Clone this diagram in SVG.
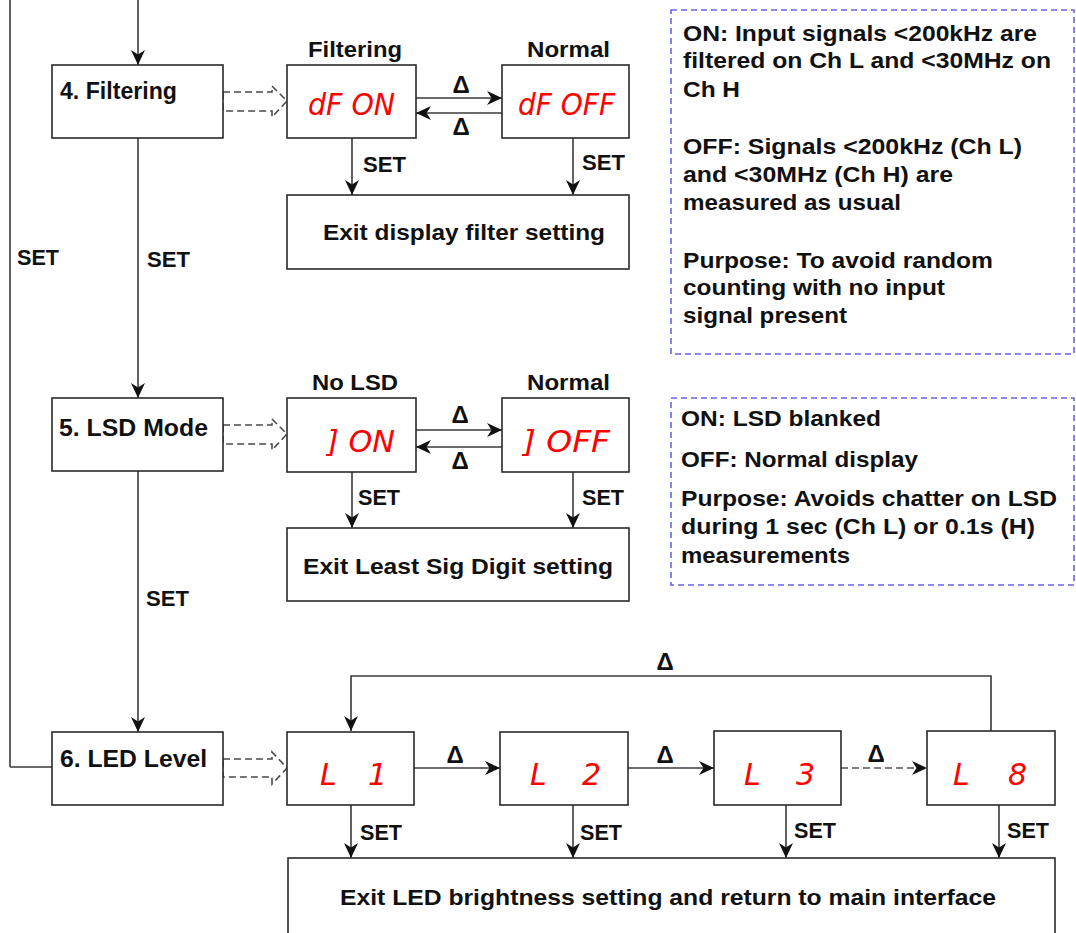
<svg xmlns="http://www.w3.org/2000/svg" width="1076" height="933" viewBox="0 0 1076 933">
<style>
.box{fill:#fff;stroke:#2a2a2a;stroke-width:1.6}
.ln{fill:none;stroke:#3a3a3a;stroke-width:1.6}
.dl{fill:none;stroke:#4a4a4a;stroke-width:1.6;stroke-dasharray:7,4}
.da{fill:none;stroke:#555;stroke-width:1.6;stroke-dasharray:7,4}
.info{fill:#fff;stroke:#6666ee;stroke-width:1.6;stroke-dasharray:6,4}
.bl{font-family:"Liberation Sans",Arial,sans-serif;font-weight:bold;font-size:23px;fill:#111}
.t{font-family:"Liberation Sans",Arial,sans-serif;font-weight:bold;font-size:22px;fill:#111}
.dt{font-family:"Liberation Sans",Arial,sans-serif;font-weight:bold;font-size:24px;fill:#111;text-anchor:middle}
.d{font-family:"DejaVu Sans",sans-serif;font-style:italic;font-size:30px;fill:#ff0000}
</style>
<defs>
<marker id="ah" markerUnits="userSpaceOnUse" markerWidth="16" markerHeight="15" refX="15" refY="7" orient="auto">
<path d="M0,0 L15,7 L0,14 L4.5,7 z" fill="#111"/>
</marker>
</defs>

<g id="connectors">
<line class="ln" x1="10" y1="0" x2="10" y2="767"/>
<line class="ln" x1="10" y1="767" x2="52" y2="767"/>
<line class="ln" x1="138" y1="0" x2="138" y2="65" marker-end="url(#ah)"/>
<line class="ln" x1="138" y1="138" x2="138" y2="398" marker-end="url(#ah)"/>
<line class="ln" x1="138" y1="471" x2="138" y2="732" marker-end="url(#ah)"/>
<text class="t" x="17" y="265" textLength="42" lengthAdjust="spacingAndGlyphs">SET</text>
<text class="t" x="147" y="267" textLength="43" lengthAdjust="spacingAndGlyphs">SET</text>
<text class="t" x="146" y="606" textLength="43" lengthAdjust="spacingAndGlyphs">SET</text>

<polygon class="dl" points="223,92 272,92 272,86 287,101 272,117 272,111 223,111"/>
<polygon class="dl" points="223,425 272,425 272,419 287,434 272,450 272,444 223,444"/>
<polygon class="dl" points="223,759 272,759 272,752 287,768 272,784 272,777 223,777"/>

<line class="ln" x1="416" y1="98" x2="502" y2="98" marker-end="url(#ah)"/>
<line class="ln" x1="502" y1="113" x2="416" y2="113" marker-end="url(#ah)"/>
<text class="dt" x="461" y="93">Δ</text>
<text class="dt" x="461" y="135">Δ</text>
<line class="ln" x1="352" y1="138" x2="352" y2="195" marker-end="url(#ah)"/>
<line class="ln" x1="573" y1="138" x2="573" y2="195" marker-end="url(#ah)"/>
<text class="t" x="363" y="172" textLength="43" lengthAdjust="spacingAndGlyphs">SET</text>
<text class="t" x="582" y="170" textLength="43" lengthAdjust="spacingAndGlyphs">SET</text>

<line class="ln" x1="416" y1="430" x2="502" y2="430" marker-end="url(#ah)"/>
<line class="ln" x1="502" y1="447" x2="416" y2="447" marker-end="url(#ah)"/>
<text class="dt" x="460" y="423">Δ</text>
<text class="dt" x="460" y="469">Δ</text>
<line class="ln" x1="352" y1="472" x2="352" y2="528" marker-end="url(#ah)"/>
<line class="ln" x1="573" y1="472" x2="573" y2="528" marker-end="url(#ah)"/>
<text class="t" x="358" y="505" textLength="42" lengthAdjust="spacingAndGlyphs">SET</text>
<text class="t" x="582" y="505" textLength="42" lengthAdjust="spacingAndGlyphs">SET</text>

<path class="ln" d="M991,731 V676 H351 V731" marker-end="url(#ah)"/>
<text class="dt" x="665" y="670">Δ</text>
<line class="ln" x1="414" y1="768" x2="500" y2="768" marker-end="url(#ah)"/>
<line class="ln" x1="628" y1="768" x2="714" y2="768" marker-end="url(#ah)"/>
<line class="da" x1="841" y1="768" x2="927" y2="768" marker-end="url(#ah)"/>
<text class="dt" x="455" y="763">Δ</text>
<text class="dt" x="665" y="763">Δ</text>
<text class="dt" x="876" y="762">Δ</text>
<line class="ln" x1="351" y1="805" x2="351" y2="858" marker-end="url(#ah)"/>
<line class="ln" x1="573" y1="805" x2="573" y2="858" marker-end="url(#ah)"/>
<line class="ln" x1="786" y1="805" x2="786" y2="858" marker-end="url(#ah)"/>
<line class="ln" x1="999" y1="805" x2="999" y2="858" marker-end="url(#ah)"/>
<text class="t" x="360" y="840" textLength="42" lengthAdjust="spacingAndGlyphs">SET</text>
<text class="t" x="580" y="840" textLength="42" lengthAdjust="spacingAndGlyphs">SET</text>
<text class="t" x="794" y="838" textLength="42" lengthAdjust="spacingAndGlyphs">SET</text>
<text class="t" x="1007" y="838" textLength="42" lengthAdjust="spacingAndGlyphs">SET</text>
</g>

<g id="n4">
<rect class="box" x="52" y="65" width="171" height="73"/>
<text class="bl" x="60" y="99" textLength="117" lengthAdjust="spacingAndGlyphs">4. Filtering</text>
</g>
<g id="n5">
<rect class="box" x="52" y="398" width="171" height="73"/>
<text class="bl" x="59" y="436" textLength="149" lengthAdjust="spacingAndGlyphs">5. LSD Mode</text>
</g>
<g id="n6">
<rect class="box" x="52" y="732" width="171" height="73"/>
<text class="bl" x="60" y="767" textLength="147" lengthAdjust="spacingAndGlyphs">6. LED Level</text>
</g>

<g id="dfon">
<text class="t" x="308" y="57" textLength="94" lengthAdjust="spacingAndGlyphs">Filtering</text>
<rect class="box" x="287" y="65" width="129" height="73"/>
<text class="d" x="308" y="115" textLength="87" lengthAdjust="spacingAndGlyphs">dF ON</text>
</g>
<g id="dfoff">
<text class="t" x="527" y="57" textLength="83" lengthAdjust="spacingAndGlyphs">Normal</text>
<rect class="box" x="502" y="65" width="127" height="73"/>
<text class="d" x="518" y="115" textLength="97" lengthAdjust="spacingAndGlyphs">dF OFF</text>
</g>
<g id="exit1">
<rect class="box" x="287" y="195" width="342" height="74"/>
<text class="t" x="323" y="240" textLength="282" lengthAdjust="spacingAndGlyphs">Exit display filter setting</text>
</g>

<g id="jon">
<text class="t" x="312" y="390" textLength="86" lengthAdjust="spacingAndGlyphs">No LSD</text>
<rect class="box" x="287" y="398" width="129" height="74"/>
<text class="d" x="327" y="452" textLength="68" lengthAdjust="spacingAndGlyphs">] ON</text>
</g>
<g id="joff">
<text class="t" x="527" y="390" textLength="83" lengthAdjust="spacingAndGlyphs">Normal</text>
<rect class="box" x="502" y="398" width="127" height="74"/>
<text class="d" x="523" y="452" textLength="87" lengthAdjust="spacingAndGlyphs">] OFF</text>
</g>
<g id="exit2">
<rect class="box" x="287" y="528" width="342" height="73"/>
<text class="t" x="303" y="574" textLength="310" lengthAdjust="spacingAndGlyphs">Exit Least Sig Digit setting</text>
</g>

<g id="l1">
<rect class="box" x="287" y="732" width="127" height="73"/>
<text class="d" y="785"><tspan x="320">L</tspan> <tspan x="368">1</tspan></text>
</g>
<g id="l2">
<rect class="box" x="500" y="732" width="128" height="73"/>
<text class="d" y="785"><tspan x="530">L</tspan> <tspan x="582">2</tspan></text>
</g>
<g id="l3">
<rect class="box" x="714" y="731" width="127" height="74"/>
<text class="d" y="785"><tspan x="744">L</tspan> <tspan x="796">3</tspan></text>
</g>
<g id="l8">
<rect class="box" x="927" y="731" width="128" height="74"/>
<text class="d" y="785"><tspan x="953">L</tspan> <tspan x="1008">8</tspan></text>
</g>
<g id="exit3">
<rect class="box" x="288" y="858" width="767" height="90"/>
<text class="t" x="340" y="905" textLength="656" lengthAdjust="spacingAndGlyphs">Exit LED brightness setting and return to main interface</text>
</g>

<g id="info1">
<rect class="info" x="671" y="10" width="403" height="344"/>
<text class="t" x="683" y="41" textLength="354" lengthAdjust="spacingAndGlyphs">ON: Input signals &lt;200kHz are</text>
<text class="t" x="683" y="68" textLength="368" lengthAdjust="spacingAndGlyphs">filtered on Ch L and &lt;30MHz on</text>
<text class="t" x="683" y="97" textLength="57" lengthAdjust="spacingAndGlyphs">Ch H</text>
<text class="t" x="683" y="154" textLength="339" lengthAdjust="spacingAndGlyphs">OFF: Signals &lt;200kHz (Ch L)</text>
<text class="t" x="683" y="182" textLength="270" lengthAdjust="spacingAndGlyphs">and &lt;30MHz (Ch H) are</text>
<text class="t" x="683" y="210" textLength="218" lengthAdjust="spacingAndGlyphs">measured as usual</text>
<text class="t" x="683" y="268" textLength="310" lengthAdjust="spacingAndGlyphs">Purpose: To avoid random</text>
<text class="t" x="683" y="295" textLength="262" lengthAdjust="spacingAndGlyphs">counting with no input</text>
<text class="t" x="683" y="323" textLength="164" lengthAdjust="spacingAndGlyphs">signal present</text>
</g>
<g id="info2">
<rect class="info" x="671" y="398" width="403" height="187"/>
<text class="t" x="681" y="426" textLength="200" lengthAdjust="spacingAndGlyphs">ON: LSD blanked</text>
<text class="t" x="681" y="467" textLength="237" lengthAdjust="spacingAndGlyphs">OFF: Normal display</text>
<text class="t" x="681" y="506" textLength="376" lengthAdjust="spacingAndGlyphs">Purpose: Avoids chatter on LSD</text>
<text class="t" x="681" y="534" textLength="354" lengthAdjust="spacingAndGlyphs">during 1 sec (Ch L) or 0.1s (H)</text>
<text class="t" x="681" y="563" textLength="169" lengthAdjust="spacingAndGlyphs">measurements</text>
</g>
</svg>
